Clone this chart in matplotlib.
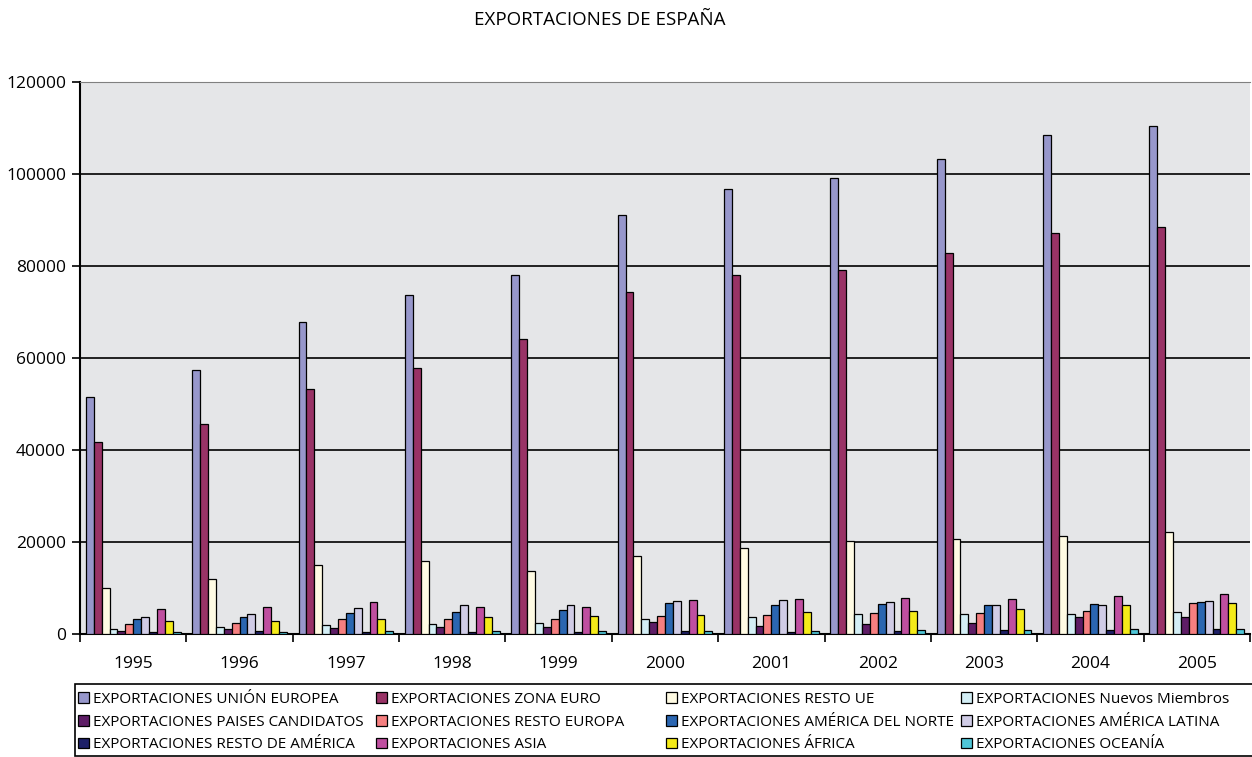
import numpy as np
import matplotlib
matplotlib.use("Agg")
import matplotlib.pyplot as plt
from matplotlib.patches import Patch, Rectangle

plt.rcParams['font.family'] = ['Open Sans', 'DejaVu Sans']

years = ['1995', '1996', '1997', '1998', '1999', '2000', '2001', '2002', '2003', '2004', '2005']

series_names = ['EXPORTACIONES UNIÓN EUROPEA', 'EXPORTACIONES ZONA EURO',
                'EXPORTACIONES RESTO UE', 'EXPORTACIONES Nuevos Miembros',
                'EXPORTACIONES PAISES CANDIDATOS', 'EXPORTACIONES RESTO EUROPA',
                'EXPORTACIONES AMÉRICA DEL NORTE', 'EXPORTACIONES AMÉRICA LATINA',
                'EXPORTACIONES RESTO DE AMÉRICA', 'EXPORTACIONES ASIA',
                'EXPORTACIONES ÁFRICA', 'EXPORTACIONES OCEANÍA']

union_europea = [51500, 57400, 67800, 73700, 78000, 91000, 96700, 99100, 103300, 108500, 110500]
zona_euro = [41700, 45600, 53200, 57800, 64100, 74300, 78100, 79100, 82800, 87100, 88400]
resto_ue = [10100, 11900, 14900, 15900, 13800, 16900, 18700, 20300, 20600, 21400, 22200]
nuevos_miembros = [1100, 1500, 2000, 2200, 2300, 3300, 3800, 4300, 4300, 4300, 4700]
paises_candidatos = [700, 1000, 1400, 1500, 1600, 2600, 1700, 2100, 2500, 3600, 3800]
resto_europa = [2200, 2400, 3200, 3300, 3300, 3900, 4100, 4500, 4500, 5100, 6700]
america_norte = [3300, 3700, 4600, 4800, 5200, 6800, 6300, 6500, 6400, 6600, 7000]
america_latina = [3700, 4400, 5700, 6400, 6200, 7200, 7500, 7000, 6200, 6400, 7200]
resto_america = [500, 600, 450, 450, 450, 650, 500, 550, 900, 900, 1150]
asia = [5400, 5900, 6900, 5800, 5900, 7400, 7700, 7800, 7600, 8300, 8800]
africa = [2800, 2900, 3300, 3800, 3900, 4200, 4700, 4900, 5400, 6200, 6700]
oceania = [400, 400, 600, 600, 650, 600, 650, 800, 800, 1100, 1150]

series = [union_europea, zona_euro, resto_ue, nuevos_miembros, paises_candidatos,
          resto_europa, america_norte, america_latina, resto_america, asia,
          africa, oceania]

colors = ['#9797CB', '#993366', '#FFFBE3', '#D3EEF5', '#5E1D66', '#F57F80',
          '#2B66B1', '#D0CCE6', '#1E2068', '#BF4FA0', '#F5EB19', '#4FC6D8']

W, H = 1252, 757
fig = plt.figure(figsize=(W/100, H/100), dpi=100)
ax = fig.add_axes([80/W, 1-634/H, 1170/W, 552/H])
ax.set_facecolor('#E5E6E8')

nSeries = len(series)
w = 0.0742
x = np.arange(len(years))
for j, vals in enumerate(series):
    pos = x - nSeries*w/2 + (j+0.5)*w
    ax.bar(pos, vals, width=w, color=colors[j], edgecolor='black',
           linewidth=0.9, label=series_names[j], zorder=3)

ax.set_xlim(-0.5, len(years)-0.5)
ax.set_ylim(0, 120000)
ax.set_yticks(np.arange(0, 120001, 20000))
ax.yaxis.grid(True, color='black', linewidth=1.2, zorder=0)
ax.set_axisbelow(True)
ax.tick_params(axis='y', direction='out', length=6, width=1.2, labelsize=12.5, pad=4)
# ticks between categories, labels centered
ax.set_xticks(np.arange(-0.5, len(years), 1.0))
ax.set_xticklabels([])
ax.set_xticks(x, minor=True)
ax.set_xticklabels(years, minor=True, fontsize=12.5)
ax.tick_params(axis='x', which='major', direction='out', length=6, width=1.2)
ax.tick_params(axis='x', which='minor', length=0, pad=16)
ax.spines['right'].set_visible(False)
ax.spines['top'].set_color('#808080')
ax.spines['left'].set_linewidth(1.5)
ax.spines['bottom'].set_linewidth(1.5)

fig.text(600/W, 1-20/H, 'EXPORTACIONES DE ESPAÑA', ha='center', va='center',
         fontsize=13.5)

# legend: frame box + one column legend per column (reference is row-major)
fig.patches.append(Rectangle((75/W, 1/H), 1.2, (755-683)/H,
                             transform=fig.transFigure, facecolor='white',
                             edgecolor='black', linewidth=1.2, zorder=1))
colX = [78, 376, 666, 961]
ncol = 4
for c in range(ncol):
    idx = [r*ncol + c for r in range(3)]
    handles = [Patch(facecolor=colors[i], edgecolor='black', linewidth=0.9) for i in idx]
    labels = [series_names[i] for i in idx]
    leg = fig.legend(handles, labels, loc='upper left',
                     bbox_to_anchor=(colX[c]/W, 1-692/H), fontsize=11,
                     frameon=False, handlelength=0.7, handleheight=0.7,
                     handletextpad=0.25, labelspacing=0.5, borderpad=0,
                     borderaxespad=0)
    leg.set_zorder(2)

fig.savefig('out.png', dpi=100)
